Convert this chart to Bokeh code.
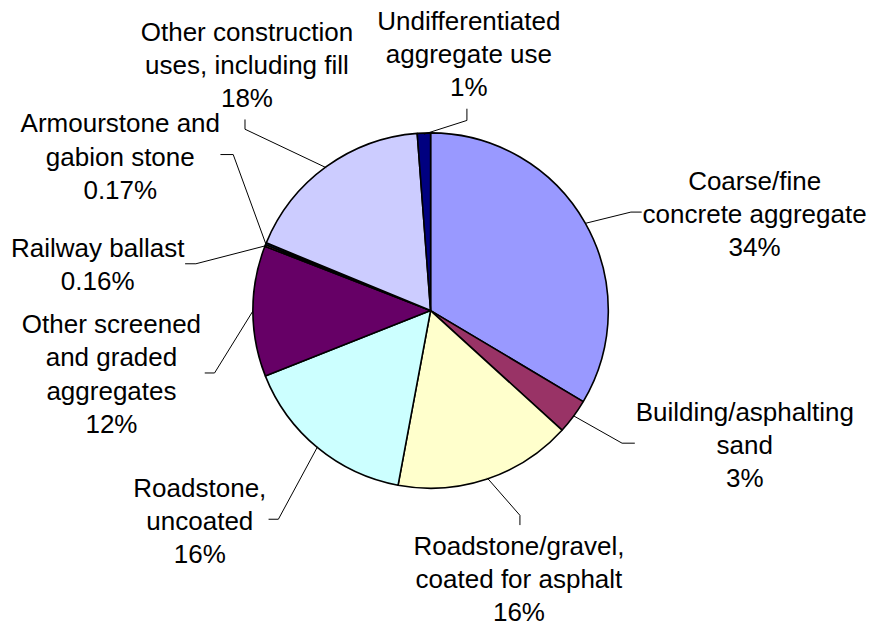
import math
from bokeh.plotting import figure
from bokeh.models import Range1d, ColumnDataSource
from bokeh.core.properties import value
from bokeh.embed import file_html
from bokeh.resources import INLINE

# ---- data ----
categories = [
    "Coarse/fine\nconcrete aggregate",
    "Building/asphalting\nsand",
    "Roadstone/gravel,\ncoated for asphalt",
    "Roadstone,\nuncoated",
    "Other screened\nand graded\naggregates",
    "Railway ballast",
    "Armourstone and\ngabion stone",
    "Other construction\nuses, including fill",
    "Undifferentiated\naggregate use",
]
shares = [33.6, 3.2, 16.2, 16.1, 11.9, 0.16, 0.17, 17.6, 1.2]
pct_labels = ["34%", "3%", "16%", "16%", "12%", "0.16%", "0.17%", "18%", "1%"]
colors = ["#9999FF", "#993366", "#FFFFCC", "#CCFFFF", "#660066",
          "#FF8080", "#0066CC", "#CCCCFF", "#000080"]

# ---- layout (reference-image coordinates) ----
REF_W, REF_H = 885, 642
CX, CY, R = 438, 318, 181
label_centers = [(768, 219), (758, 456), (528, 593), (203, 534), (113, 383),
                 (99, 271), (122, 160), (251, 66), (477, 55)]
leader_elbow = [(642, 217), (633, 454), (529, 528), (283, 532), (218, 382),
                (199, 270), (237, 158), (249, 132), (475, 123)]
leader_end = [(653, 217), (646, 454), (529, 538), (273, 532), (208, 382),
              (188, 270), (224, 158), (249, 122), (475, 111)]
LINE_H = 34.0
FONT = "Liberation Sans"
FSIZE = "26px"

W, H = 869, 626
p = figure(width=W, height=H, x_range=Range1d(0, REF_W), y_range=Range1d(-REF_H, 0),
           output_backend="svg", toolbar_location=None, min_border=0,
           x_axis_location=None, y_axis_location=None)
p.grid.visible = False
p.outline_line_color = None
p.background_fill_color = "white"

total = sum(shares)
starts, ends, mids = [], [], []
cum = 0.0
for s in shares:
    a0 = cum / total
    cum += s
    a1 = cum / total
    starts.append(math.pi / 2 - a0 * 2 * math.pi)
    ends.append(math.pi / 2 - a1 * 2 * math.pi)
    mids.append(math.pi / 2 - (a0 + a1) / 2 * 2 * math.pi)

src = ColumnDataSource(dict(start=starts, end=ends, color=colors,
                            x=[CX] * len(shares), y=[-CY] * len(shares)))
p.wedge(x="x", y="y", radius=R, start_angle="start", end_angle="end",
        direction="clock", fill_color="color", line_color="black", line_width=1.6,
        source=src)

# leader lines
xs, ys = [], []
for m, e, t in zip(mids, leader_elbow, leader_end):
    sx = CX + R * math.cos(m)
    sy = CY - R * math.sin(m)
    xs.append([sx, e[0], t[0]])
    ys.append([-sy, -e[1], -t[1]])
p.multi_line(xs=xs, ys=ys, line_color="black", line_width=1)

# labels
tx, ty, tt = [], [], []
for cat, pct, (lx, ly) in zip(categories, pct_labels, label_centers):
    lines = cat.split("\n") + [pct]
    n = len(lines)
    for i, ln in enumerate(lines):
        tx.append(lx)
        ty.append(-(ly + (i - (n - 1) / 2) * LINE_H))
        tt.append(ln)
p.text(x=tx, y=ty, text=tt, text_align="center", text_baseline="middle",
       text_font=value(FONT), text_font_size=FSIZE, text_color="black")

open("out.html", "w").write(file_html(p, INLINE))
